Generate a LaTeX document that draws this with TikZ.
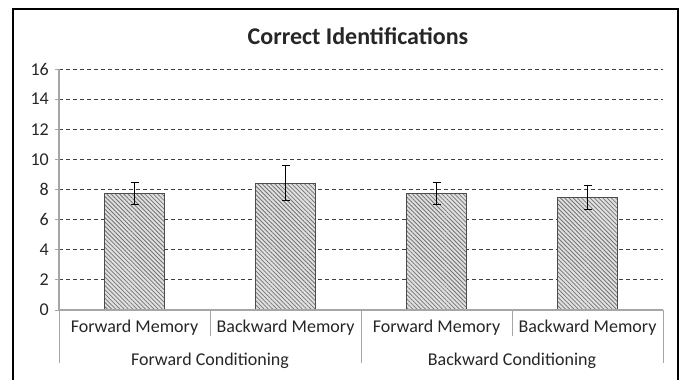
\documentclass[tikz,border=0pt]{standalone}
\usepackage{fontspec}
\setmainfont{Carlito}
\usetikzlibrary{patterns.meta}
\definecolor{txt}{HTML}{262626}
\definecolor{axisgray}{HTML}{A6A6A6}
\definecolor{gridgray}{HTML}{404040}
\begin{document}
\begin{tikzpicture}[x=1pt,y=-1pt,
  lbl/.style={font=\fontsize{18}{21}\selectfont, text=txt, inner sep=0pt},
  ttl/.style={font=\fontsize{24}{28}\selectfont\bfseries, text=txt, inner sep=0pt},
  gridline/.style={gridgray, line width=0.9pt, dash pattern=on 4pt off 3pt},
  axisline/.style={axisgray, line width=1.3pt},
  barbox/.style={draw=black!70, line width=1pt,
    preaction={fill=black!12},
    pattern={Lines[angle=-45,distance=3pt,line width=0.8pt]}, pattern color=black!55},
  errbar/.style={black, line width=0.8pt}]
\useasboundingbox (0,0) rectangle (681,380);
\clip (0,0) rectangle (681,380);

% chart frame (its lower edge runs past the page)
\draw[line width=2pt] (13,9) rectangle (678,392);

% title
\node[ttl, anchor=base] (title) at (358,45) {Correct Identifications};

% value axis: gridlines, ticks, labels
\foreach \v in {2,4,...,16} {
  \draw[gridline] (59,{310-15.06*\v}) -- (663,{310-15.06*\v});
}
\foreach \v in {0,2,...,16} {
  \draw[axisline, line width=1pt] (55,{310-15.06*\v}) -- (59,{310-15.06*\v});
  \node[lbl, anchor=east] (ylab\v) at (49,{310-15.06*\v}) {\v};
}
\draw[axisline] (59,{310-15.06*16}) -- (59,310);

% bars with error bars
\foreach \cx/\val/\lo/\hi [count=\i] in
  {134.5/7.75/7.0/8.47, 285.5/8.4/7.25/9.57, 436.5/7.75/7.0/8.47, 587.5/7.5/6.7/8.3} {
  \draw[barbox] (\cx-30,310) rectangle (\cx+30,{310-15.06*\val});
  \draw[errbar] (\cx,{310-15.06*\lo}) -- (\cx,{310-15.06*\hi});
  \draw[errbar] (\cx-4,{310-15.06*\lo}) -- (\cx+4,{310-15.06*\lo});
  \draw[errbar] (\cx-4,{310-15.06*\hi}) -- (\cx+4,{310-15.06*\hi});
}

% category axis
\draw[axisline] (59,310) -- (663,310);
\foreach \x in {59,361,663} { \draw[axisline, line width=1pt] (\x,310) -- (\x,363); }
\foreach \x in {210,512} { \draw[axisline, line width=1pt] (\x,310) -- (\x,336); }

\node[lbl, anchor=base] (fm1) at (134.5,332) {Forward Memory};
\node[lbl, anchor=base] (bm1) at (285.5,332) {Backward Memory};
\node[lbl, anchor=base] (fm2) at (436.5,332) {Forward Memory};
\node[lbl, anchor=base] (bm2) at (587.5,332) {Backward Memory};
\node[lbl, anchor=base] (fc) at (210,365) {Forward Conditioning};
\node[lbl, anchor=base] (bc) at (512,365) {Backward Conditioning};
\end{tikzpicture}
\end{document}
